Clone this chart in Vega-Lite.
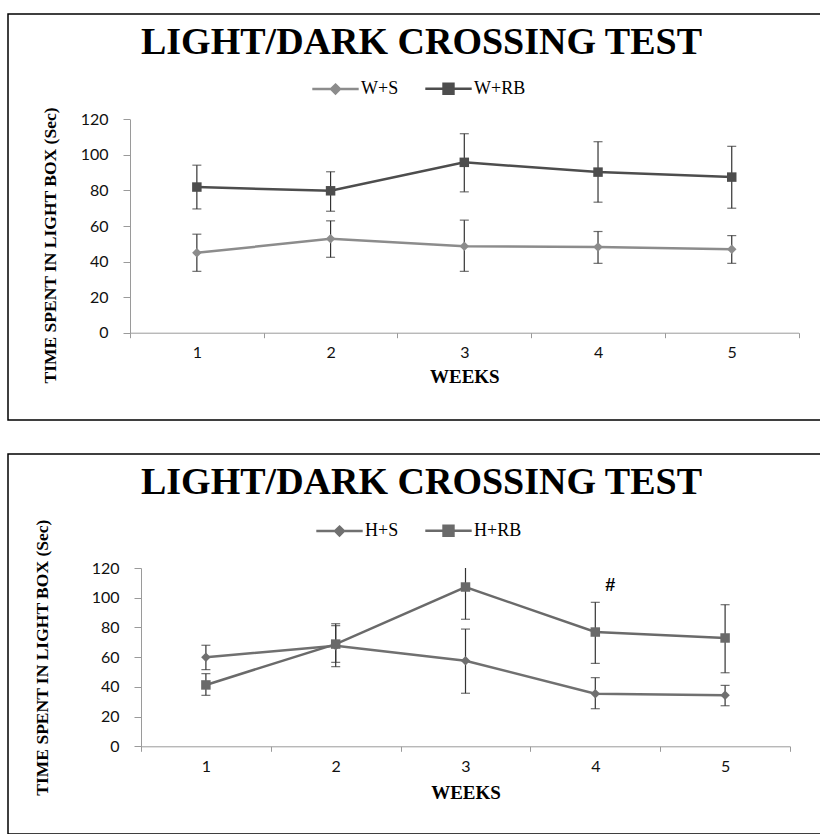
{
  "$schema": "https://vega.github.io/schema/vega-lite/v6.json",
  "background": "white",
  "padding": {"left": 7, "top": 13, "right": 0, "bottom": 0},
  "spacing": 32,
  "resolve": {"scale": {"color": "independent"}},
  "datasets": {
    "w": [
      {"week": 1, "group": "W+S", "mean": 44.9, "lo": 34.5, "hi": 55.4},
      {"week": 2, "group": "W+S", "mean": 52.8, "lo": 42.4, "hi": 62.9},
      {"week": 3, "group": "W+S", "mean": 48.6, "lo": 34.5, "hi": 63.3},
      {"week": 4, "group": "W+S", "mean": 48.2, "lo": 39.0, "hi": 56.9},
      {"week": 5, "group": "W+S", "mean": 46.9, "lo": 39.0, "hi": 54.6},
      {"week": 1, "group": "W+RB", "mean": 81.9, "lo": 69.6, "hi": 94.2},
      {"week": 2, "group": "W+RB", "mean": 79.8, "lo": 68.3, "hi": 90.5},
      {"week": 3, "group": "W+RB", "mean": 95.8, "lo": 79.2, "hi": 111.9},
      {"week": 4, "group": "W+RB", "mean": 90.3, "lo": 73.4, "hi": 107.4},
      {"week": 5, "group": "W+RB", "mean": 87.5, "lo": 70.0, "hi": 104.8}
    ],
    "h": [
      {"week": 1, "group": "H+S", "mean": 59.9, "lo": 51.6, "hi": 68.0, "sig": ""},
      {"week": 2, "group": "H+S", "mean": 67.7, "lo": 53.6, "hi": 82.5, "sig": ""},
      {"week": 3, "group": "H+S", "mean": 57.6, "lo": 35.7, "hi": 78.9, "sig": ""},
      {"week": 4, "group": "H+S", "mean": 35.4, "lo": 25.3, "hi": 46.2, "sig": ""},
      {"week": 5, "group": "H+S", "mean": 34.3, "lo": 27.3, "hi": 41.0, "sig": ""},
      {"week": 1, "group": "H+RB", "mean": 41.3, "lo": 34.3, "hi": 48.9, "sig": ""},
      {"week": 2, "group": "H+RB", "mean": 68.8, "lo": 56.5, "hi": 81.2, "sig": ""},
      {"week": 3, "group": "H+RB", "mean": 107.2, "lo": 85.5, "hi": 128.9, "sig": ""},
      {"week": 4, "group": "H+RB", "mean": 76.9, "lo": 55.8, "hi": 96.9, "sig": "#"},
      {"week": 5, "group": "H+RB", "mean": 72.9, "lo": 49.5, "hi": 95.3, "sig": ""}
    ]
  },
  "vconcat": [
    {
      "width": 815,
      "height": 406,
      "title": {"text": "LIGHT/DARK CROSSING TEST", "offset": -48, "dx": 6},
      "data": {"name": "w"},
      "encoding": {
        "x": {
          "field": "week", "type": "ordinal",
          "scale": {"type": "band", "range": [122, 790.6], "paddingInner": 0, "paddingOuter": 0},
          "axis": {"title": "WEEKS", "offset": -87.3, "titlePadding": 7}
        }
      },
      "layer": [
        {
          "mark": {"type": "rule", "color": "#333", "strokeWidth": 1.2},
          "encoding": {
            "y": {"field": "lo", "type": "quantitative", "title": "TIME SPENT IN LIGHT BOX (Sec)",
                  "scale": {"domain": [0, 120], "range": [318.7, 105.3], "nice": false, "zero": false, "clamp": true},
                  "axis": {"offset": -122, "values": [0, 20, 40, 60, 80, 100, 120], "titlePadding": 21, "titleY": 231}},
            "y2": {"field": "hi"}
          }
        },
        {
          "mark": {"type": "tick", "color": "#333", "size": 9, "thickness": 1.2},
          "encoding": {"y": {"field": "lo", "type": "quantitative", "title": "TIME SPENT IN LIGHT BOX (Sec)"}}
        },
        {
          "transform": [{"filter": "datum.hi <= 120"}],
          "mark": {"type": "tick", "color": "#333", "size": 9, "thickness": 1.2},
          "encoding": {"y": {"field": "hi", "type": "quantitative", "title": "TIME SPENT IN LIGHT BOX (Sec)"}}
        },
        {
          "mark": {"type": "line", "strokeWidth": 2.5},
          "encoding": {
            "y": {"field": "mean", "type": "quantitative", "title": "TIME SPENT IN LIGHT BOX (Sec)"},
            "color": {
              "field": "group", "type": "nominal",
              "scale": {"domain": ["W+S", "W+RB"], "range": ["#8c8c8c", "#4d4d4d"]},
              "legend": {
                "orient": "none", "legendX": 318, "legendY": 65, "direction": "horizontal", "title": null,
                "columnPadding": 21,
                "encode": {
                  "symbols": {
                    "update": {
                      "shape": {"signal": "datum.value === 'W+S' ? 'M-2.9,0H2.9M0,-0.55L0.55,0L0,0.55L-0.55,0Z' : 'M-2.9,0H2.9M-0.62,-0.62H0.62V0.62H-0.62Z'"},
                      "strokeWidth": {"value": 2.5},
                      "opacity": {"value": 1}
                    }
                  }
                }
              }
            }
          }
        },
        {
          "transform": [{"filter": "datum.group === 'W+S'"}],
          "mark": {"type": "point", "filled": true, "opacity": 1, "size": 90, "shape": "diamond"},
          "encoding": {
            "y": {"field": "mean", "type": "quantitative", "title": "TIME SPENT IN LIGHT BOX (Sec)"},
            "color": {"field": "group", "type": "nominal"}
          }
        },
        {
          "transform": [{"filter": "datum.group === 'W+RB'"}],
          "mark": {"type": "point", "filled": true, "opacity": 1, "size": 90, "shape": "square"},
          "encoding": {
            "y": {"field": "mean", "type": "quantitative", "title": "TIME SPENT IN LIGHT BOX (Sec)"},
            "color": {"field": "group", "type": "nominal"}
          }
        }
      ]
    },
    {
      "width": 815,
      "height": 380,
      "title": {"text": "LIGHT/DARK CROSSING TEST", "offset": -48, "dx": 6},
      "data": {"name": "h"},
      "encoding": {
        "x": {
          "field": "week", "type": "ordinal",
          "scale": {"type": "band", "range": [133, 782], "paddingInner": 0, "paddingOuter": 0},
          "axis": {"title": "WEEKS", "offset": -87.7, "titlePadding": 9}
        }
      },
      "layer": [
        {
          "mark": {"type": "rule", "color": "#333", "strokeWidth": 1.2},
          "encoding": {
            "y": {"field": "lo", "type": "quantitative", "title": "TIME SPENT IN LIGHT BOX (Sec)",
                  "scale": {"domain": [0, 120], "range": [292.3, 114], "nice": false, "zero": false, "clamp": true},
                  "axis": {"offset": -133, "values": [0, 20, 40, 60, 80, 100, 120], "titlePadding": 40}},
            "y2": {"field": "hi"}
          }
        },
        {
          "mark": {"type": "tick", "color": "#333", "size": 9, "thickness": 1.2},
          "encoding": {"y": {"field": "lo", "type": "quantitative", "title": "TIME SPENT IN LIGHT BOX (Sec)"}}
        },
        {
          "transform": [{"filter": "datum.hi <= 120"}],
          "mark": {"type": "tick", "color": "#333", "size": 9, "thickness": 1.2},
          "encoding": {"y": {"field": "hi", "type": "quantitative", "title": "TIME SPENT IN LIGHT BOX (Sec)"}}
        },
        {
          "mark": {"type": "line", "strokeWidth": 2.5},
          "encoding": {
            "y": {"field": "mean", "type": "quantitative", "title": "TIME SPENT IN LIGHT BOX (Sec)"},
            "color": {
              "field": "group", "type": "nominal",
              "scale": {"domain": ["H+S", "H+RB"], "range": ["#707070", "#6a6a6a"]},
              "legend": {
                "orient": "none", "legendX": 322, "legendY": 67, "direction": "horizontal", "title": null,
                "columnPadding": 21,
                "encode": {
                  "symbols": {
                    "update": {
                      "shape": {"signal": "datum.value === 'H+S' ? 'M-2.9,0H2.9M0,-0.55L0.55,0L0,0.55L-0.55,0Z' : 'M-2.9,0H2.9M-0.62,-0.62H0.62V0.62H-0.62Z'"},
                      "strokeWidth": {"value": 2.5},
                      "opacity": {"value": 1}
                    }
                  }
                }
              }
            }
          }
        },
        {
          "transform": [{"filter": "datum.group === 'H+S'"}],
          "mark": {"type": "point", "filled": true, "opacity": 1, "size": 90, "shape": "diamond"},
          "encoding": {
            "y": {"field": "mean", "type": "quantitative", "title": "TIME SPENT IN LIGHT BOX (Sec)"},
            "color": {"field": "group", "type": "nominal"}
          }
        },
        {
          "transform": [{"filter": "datum.group === 'H+RB'"}],
          "mark": {"type": "point", "filled": true, "opacity": 1, "size": 90, "shape": "square"},
          "encoding": {
            "y": {"field": "mean", "type": "quantitative", "title": "TIME SPENT IN LIGHT BOX (Sec)"},
            "color": {"field": "group", "type": "nominal"}
          }
        },
        {
          "transform": [{"filter": "datum.sig != ''"}],
          "mark": {"type": "text", "font": "Liberation Sans", "fontWeight": "bold", "fontSize": 18, "color": "#000", "dx": 15, "dy": -16},
          "encoding": {
            "y": {"field": "hi", "type": "quantitative", "title": "TIME SPENT IN LIGHT BOX (Sec)"},
            "text": {"field": "sig"}
          }
        }
      ]
    }
  ],
  "config": {
    "view": {"stroke": "#000", "strokeWidth": 1.5},
    "title": {"font": "Liberation Serif", "fontSize": 38, "fontWeight": "bold", "color": "#000", "anchor": "middle"},
    "axis": {"grid": false, "domainColor": "#9a9a9a", "tickColor": "#9a9a9a", "labelFont": "Lato", "labelFontSize": 16, "labelColor": "#111", "titleFont": "Liberation Serif", "titleFontWeight": "bold", "titleColor": "#000"},
    "axisX": {"labelAngle": 0, "tickSize": 5, "tickBand": "extent", "labelPadding": 7, "titleFontSize": 19},
    "axisY": {"tickSize": 7, "labelPadding": 15, "titleFontSize": 17.5},
    "legend": {"symbolSize": 256, "labelOffset": 16, "labelFont": "Liberation Serif", "labelFontSize": 18, "labelColor": "#000", "padding": 0}
  }
}
